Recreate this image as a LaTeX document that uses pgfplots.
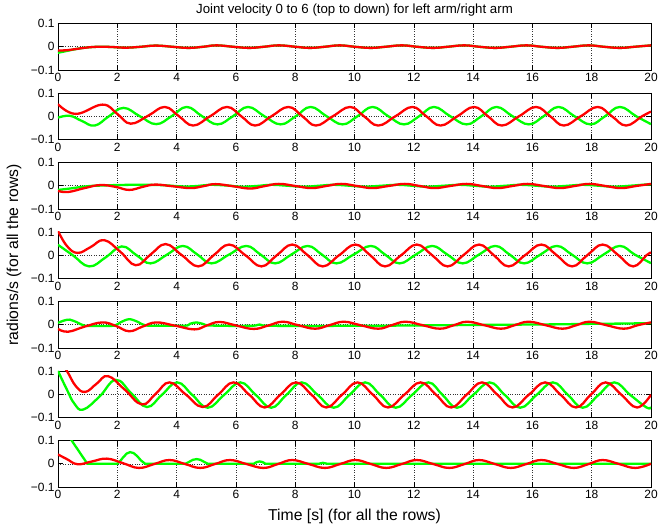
\documentclass[border=0pt]{standalone}
\usepackage{fontspec}
\setmainfont{Liberation Sans}
\usepackage{pgfplots}
\pgfplotsset{compat=1.18}

\definecolor{mgreen}{rgb}{0,1,0}
\definecolor{mred}{rgb}{1,0,0}

\pgfplotsset{
  jointrow/.style={
    scale only axis,
    width=593bp, height=46.5bp,
    xmin=0, xmax=20, ymin=-0.1, ymax=0.1,
    xtick={0,2,...,20},
    ytick={-0.1,0,0.1},
    yticklabels={−0.1,0,0.1},
    grid=major,
    major grid style={dotted, black!80, line width=0.5bp},
    tick align=inside,
    major tick length=5bp,
    axis line style={line width=0.8bp},
    every tick/.style={black, line width=0.6bp},
    tick label style={font=\fontsize{12}{14}\selectfont},
    /pgf/number format/assume math mode=true,
    every axis plot/.append style={line width=2.3bp, no markers, tension=0.72},
  },
}

\begin{document}
\begin{tikzpicture}
\path[use as bounding box] (-58bp,-41bp) rectangle (601bp,487bp);

% joint 0
\begin{axis}[jointrow, at={(0,417bp)},
  title={Joint velocity 0 to 6 (top to down) for left arm/right arm},
  title style={font=\fontsize{13.3}{15}\selectfont, yshift=-2bp}]
\addplot[mgreen, smooth] coordinates {
  (0,-0.026) (0.3,-0.018) (0.6,-0.01) (1.0,-0.003) (1.4,0.0) (1.8,-0.001)
  (2.3,-0.004) (2.8,0) (3.3,0.005) (3.85,0) (4.4,-0.005) (4.9,0) (5.35,0.006)
  (5.9,0) (6.45,-0.005) (6.95,0) (7.45,0.006) (8.0,0) (8.5,-0.005) (9.0,0)
  (9.5,0.006) (10.0,0) (10.55,-0.005) (11.05,0) (11.6,0.006) (12.1,0)
  (12.65,-0.005) (13.15,0) (13.7,0.006) (14.2,0) (14.75,-0.005) (15.25,0)
  (15.8,0.006) (16.3,0) (16.85,-0.005) (17.35,0) (17.9,0.006) (18.4,0)
  (18.95,-0.005) (19.45,0) (20,0.006)
};
\addplot[mred, smooth] coordinates {
  (0,-0.016) (0.3,-0.015) (0.6,-0.01) (1.0,-0.003) (1.4,0.0) (1.8,-0.001)
  (2.3,-0.004) (2.8,0) (3.3,0.005) (3.85,0) (4.4,-0.005) (4.9,0) (5.35,0.006)
  (5.9,0) (6.45,-0.005) (6.95,0) (7.45,0.006) (8.0,0) (8.5,-0.005) (9.0,0)
  (9.5,0.006) (10.0,0) (10.55,-0.005) (11.05,0) (11.6,0.006) (12.1,0)
  (12.65,-0.005) (13.15,0) (13.7,0.006) (14.2,0) (14.75,-0.005) (15.25,0)
  (15.8,0.006) (16.3,0) (16.85,-0.005) (17.35,0) (17.9,0.006) (18.4,0)
  (18.95,-0.005) (19.45,0) (20,0.006)
};
\end{axis}

% joint 1
\begin{axis}[jointrow, at={(0,347.5bp)}]
\addplot[mgreen, smooth] coordinates {
  (0,-0.006) (0.4,0.002) (0.8,-0.02) (1.24,-0.04) (1.72,0) (2.21,0.036)
  (2.76,0) (3.31,-0.034) (3.83,0) (4.34,0.04) (4.86,0) (5.38,-0.035) (5.9,0)
  (6.41,0.04) (6.96,0) (7.51,-0.035) (8.02,0) (8.52,0.04) (9.06,0)
  (9.6,-0.035) (10.1,0) (10.61,0.04) (11.14,0) (11.67,-0.035) (12.18,0)
  (12.68,0.04) (13.23,0) (13.78,-0.035) (14.28,0) (14.79,0.04) (15.33,0)
  (15.88,-0.035) (16.38,0) (16.88,0.04) (17.42,0) (17.96,-0.035) (18.45,0)
  (18.95,0.04) (19.5,0) (20,-0.034)
};
\addplot[mred, smooth] coordinates {
  (0,0.052) (0.6,0.01) (1.5,0.05) (2.0,0.01) (2.45,-0.032) (3.05,0.003)
  (3.6,0.04) (4.08,0) (4.56,-0.04) (5.13,0) (5.7,0.04) (6.18,0) (6.65,-0.04)
  (7.2,0) (7.77,0.04) (8.24,0) (8.7,-0.04) (9.27,0) (9.85,0.04) (10.32,0)
  (10.8,-0.04) (11.38,0) (11.95,0.04) (12.42,0) (12.9,-0.04) (13.47,0)
  (14.03,0.04) (14.5,0) (14.97,-0.04) (15.55,0) (16.12,0.04) (16.6,0)
  (17.06,-0.04) (17.63,0) (18.2,0.04) (18.68,0) (19.16,-0.04) (19.7,0)
  (20,0.02)
};
\end{axis}

% joint 2
\begin{axis}[jointrow, at={(0,278bp)}]
\addplot[mgreen, smooth] coordinates {
  (0,-0.018) (0.4,-0.012) (1.0,-0.002) (1.5,0.001) (2.0,0.003) (2.5,0.004)
  (3.0,0.004) (3.6,0.002) (4.2,-0.003) (4.7,-0.001) (5.1,0.004) (5.7,0.001)
  (6.2,-0.004) (6.7,-0.001) (7.2,0.004) (7.75,0.0) (8.3,-0.004) (8.8,0)
  (9.3,0.004) (9.85,0) (10.35,-0.004) (10.9,0) (11.45,0.004) (11.95,0)
  (12.45,-0.004) (13.0,0) (13.55,0.004) (14.05,0) (14.55,-0.004) (15.1,0)
  (15.6,0.004) (16.15,0) (16.65,-0.004) (17.2,0) (17.7,0.004) (18.25,0)
  (18.75,-0.004) (19.3,0) (19.8,0.005) (20,0.005)
};
\addplot[mred, smooth] coordinates {
  (0,-0.022) (0.34,-0.027) (0.9,-0.01) (1.43,0.003) (1.95,-0.005)
  (2.4,-0.018) (2.85,-0.005) (3.27,0.005) (3.85,-0.002) (4.47,-0.01)
  (4.9,-0.002) (5.31,0.007) (5.9,-0.002) (6.48,-0.012) (6.95,-0.002)
  (7.45,0.008) (8.0,-0.001) (8.55,-0.01) (9.05,-0.001) (9.55,0.008)
  (10.08,-0.001) (10.6,-0.01) (11.15,-0.001) (11.7,0.008) (12.2,-0.001)
  (12.7,-0.01) (13.23,-0.001) (13.78,0.008) (14.3,-0.001) (14.82,-0.01)
  (15.33,-0.001) (15.84,0.008) (16.38,-0.001) (16.92,-0.01) (17.43,-0.001)
  (17.92,0.008) (18.46,-0.001) (18.99,-0.01) (19.5,-0.001) (20,0.008)
};
\end{axis}

% joint 3
\begin{axis}[jointrow, at={(0,208.5bp)}]
\addplot[mgreen, smooth] coordinates {
  (0,0.045) (0.5,0.0) (1.05,-0.048) (1.6,-0.01) (2.15,0.038) (2.65,0.0)
  (3.12,-0.035) (3.68,0.003) (4.21,0.04) (4.7,0.003) (5.18,-0.035)
  (5.77,0.003) (6.35,0.04) (6.83,0.003) (7.32,-0.035) (7.87,0.003)
  (8.42,0.04) (8.9,0.003) (9.39,-0.035) (9.97,0.003) (10.55,0.04)
  (11.03,0.003) (11.52,-0.035) (12.07,0.003) (12.62,0.04) (13.13,0.003)
  (13.65,-0.035) (14.2,0.003) (14.75,0.04) (15.23,0.003) (15.72,-0.035)
  (16.27,0.003) (16.82,0.04) (17.33,0.003) (17.85,-0.035) (18.4,0.003)
  (18.95,0.04) (19.45,0.003) (20,-0.034)
};
\addplot[mred, smooth] coordinates {
  (0,0.105) (0.3,0.04) (0.66,0.01) (1.1,0.035) (1.56,0.065) (2.1,0.015)
  (2.62,-0.043) (3.12,0.003) (3.63,0.048) (4.18,0) (4.73,-0.048) (5.25,0)
  (5.77,0.046) (6.32,0) (6.86,-0.048) (7.38,0) (7.9,0.046) (8.42,0)
  (8.93,-0.048) (9.48,0) (10.03,0.046) (10.53,0) (11.03,-0.048) (11.57,0)
  (12.1,0.046) (12.62,0) (13.14,-0.048) (13.67,0) (14.2,0.046) (14.7,0)
  (15.2,-0.048) (15.75,0) (16.3,0.046) (16.82,0) (17.34,-0.048) (17.85,0)
  (18.37,0.046) (18.9,0) (19.4,-0.048) (19.85,0) (20,0.012)
};
\end{axis}

% joint 4
\begin{axis}[jointrow, at={(0,139bp)}]
\addplot[mgreen, smooth, tension=0.55] coordinates {
  (0,0.008) (0.2,0.018) (0.4,0.022) (0.65,0.01) (0.9,-0.004) (1.4,-0.005)
  (1.9,-0.004) (2.1,0.01) (2.4,0.024) (2.7,0.012) (2.95,-0.003)
  (3.5,-0.004) (4.3,-0.004) (4.45,0.004) (4.67,0.01) (4.9,0.003)
  (5.1,-0.003) (6.0,-0.005) (6.6,-0.004) (6.8,0.001) (7.0,-0.004)
  (8,-0.005) (9,-0.005) (10,-0.004) (11,-0.004) (12,-0.003) (13,-0.002)
  (14,-0.001) (15,0.0) (16,0.001) (17,0.002) (18,0.004) (19,0.005)
  (20,0.007)
};
\addplot[mred, smooth] coordinates {
  (0,-0.018) (0.34,-0.03) (0.9,-0.008) (1.5,0.01) (1.95,-0.005)
  (2.4,-0.028) (2.85,-0.008) (3.31,0.01) (3.95,-0.004) (4.6,-0.02)
  (5.0,-0.004) (5.44,0.012) (6.0,-0.003) (6.6,-0.018) (7.1,-0.003)
  (7.58,0.013) (8.1,-0.002) (8.67,-0.017) (9.15,-0.002) (9.64,0.013)
  (10.2,-0.002) (10.8,-0.017) (11.25,-0.002) (11.72,0.013) (12.3,-0.002)
  (12.88,-0.017) (13.35,-0.002) (13.8,0.013) (14.38,-0.002) (14.94,-0.017)
  (15.4,-0.002) (15.87,0.013) (16.45,-0.002) (17.01,-0.017) (17.48,-0.002)
  (17.93,0.013) (18.5,-0.002) (19.08,-0.017) (19.55,-0.002) (20,0.01)
};
\end{axis}

% joint 5
\begin{axis}[jointrow, at={(0,69.5bp)}]
\addplot[mgreen, smooth] coordinates {
  (0,0.1) (0.3,0.02) (0.55,-0.04) (0.85,-0.066) (1.4,-0.01) (1.95,0.062)
  (2.48,0.003) (3.0,-0.055) (3.5,-0.003) (4.02,0.051) (4.53,-0.003)
  (5.05,-0.058) (5.6,-0.003) (6.15,0.051) (6.67,-0.003) (7.19,-0.058)
  (7.7,-0.003) (8.22,0.051) (8.76,-0.003) (9.3,-0.058) (9.83,-0.003)
  (10.36,0.051) (10.87,-0.003) (11.39,-0.058) (11.94,-0.003) (12.49,0.051)
  (12.97,-0.003) (13.46,-0.058) (14.0,-0.003) (14.56,0.051) (15.07,-0.003)
  (15.59,-0.058) (16.14,-0.003) (16.69,0.051) (17.2,-0.003) (17.7,-0.058)
  (18.23,-0.003) (18.76,0.051) (19.3,-0.003) (19.85,-0.057) (20,-0.055)
};
\addplot[mred, smooth] coordinates {
  (0,0.15) (0.3,0.1) (0.6,0.035) (0.92,0.01) (1.3,0.045) (1.69,0.078)
  (2.25,0.02) (2.83,-0.044) (3.3,0.003) (3.76,0.051) (4.3,0) (4.88,-0.055)
  (5.4,-0.002) (5.92,0.051) (6.45,-0.002) (6.97,-0.057) (7.5,-0.002)
  (8.03,0.051) (8.55,-0.002) (9.05,-0.057) (9.58,-0.002) (10.1,0.051)
  (10.62,-0.002) (11.13,-0.057) (11.68,-0.002) (12.23,0.051) (12.75,-0.002)
  (13.26,-0.057) (13.78,-0.002) (14.3,0.051) (14.82,-0.002) (15.33,-0.057)
  (15.88,-0.002) (16.43,0.051) (16.95,-0.002) (17.47,-0.057) (17.97,-0.002)
  (18.47,0.051) (19.0,-0.002) (19.53,-0.057) (20,-0.002)
};
\end{axis}

% joint 6
\begin{axis}[jointrow, at={(0,0bp)}]
\addplot[mgreen, sharp plot] coordinates {
  (0,0.187) (0.46,0.1) (0.99,0.0) (2.0,0.0) (2.1,0.012) (2.2,0.028)
  (2.32,0.044) (2.43,0.05) (2.55,0.046) (2.67,0.033) (2.8,0.014) (2.94,0.0)
  (4.3,0.0) (4.42,0.008) (4.55,0.017) (4.68,0.02) (4.8,0.017) (4.93,0.008)
  (5.05,0.0) (6.6,0.0) (6.7,0.007) (6.8,0.01) (6.9,0.007) (7.0,0.0)
  (8.8,0.0) (8.93,0.004) (9.08,0.0) (20,0.0)
};
\addplot[mred, smooth] coordinates {
  (0,0.04) (0.3,0.02) (0.66,-0.002) (1.15,0.01) (1.65,0.022) (2.2,0.002)
  (2.73,-0.018) (3.25,-0.001) (3.76,0.016) (4.28,-0.001) (4.8,-0.018)
  (5.3,-0.001) (5.8,0.016) (6.35,-0.001) (6.93,-0.018) (7.42,-0.001)
  (7.9,0.016) (8.45,-0.001) (9.0,-0.018) (9.52,-0.001) (10.03,0.016)
  (10.55,-0.001) (11.07,-0.018) (11.6,-0.001) (12.1,0.016) (12.65,-0.001)
  (13.2,-0.018) (13.72,-0.001) (14.2,0.016) (14.73,-0.001) (15.27,-0.018)
  (15.8,-0.001) (16.3,0.016) (16.85,-0.001) (17.4,-0.018) (17.9,-0.001)
  (18.37,0.016) (18.92,-0.001) (19.47,-0.018) (20,0.0)
};
\end{axis}

\node[rotate=90, font=\fontsize{15.8}{18}\selectfont] at (-44bp,232bp)
  {radions/s (for all the rows)};
\node[font=\fontsize{15.8}{18}\selectfont] at (296.5bp,-29bp)
  {Time [s] (for all the rows)};
\end{tikzpicture}
\end{document}
